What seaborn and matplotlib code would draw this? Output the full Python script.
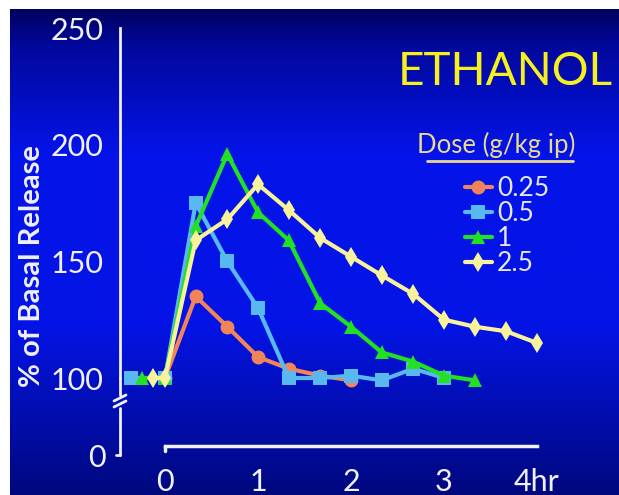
import numpy as np
import pandas as pd
import matplotlib
matplotlib.use('Agg')
import matplotlib.pyplot as plt
import seaborn as sns
from matplotlib.colors import LinearSegmentedColormap
from matplotlib.lines import Line2D

# ---- data (hours after injection, % of basal release) ----
doses = ['0.25', '0.5', '1', '2.5']

t_025 = [0.0, 0.33, 0.67, 1.0, 1.33, 1.67, 2.0]
v_025 = [100, 135, 122, 109, 104, 101, 99]

t_05 = [-0.37, 0.0, 0.33, 0.67, 1.0, 1.33, 1.67, 2.0, 2.33, 2.67, 3.0]
v_05 = [100, 100, 175, 150, 130, 100, 100, 101, 99, 104, 100]

t_1 = [-0.25, 0.0, 0.33, 0.67, 1.0, 1.33, 1.67, 2.0, 2.33, 2.67, 3.0, 3.33]
v_1 = [100, 100, 165, 196, 171, 159, 132, 122, 111, 107, 101, 99]

t_25 = [-0.13, 0.0, 0.33, 0.67, 1.0, 1.33, 1.67, 2.0, 2.33, 2.67, 3.0, 3.33, 3.67, 4.0]
v_25 = [100, 100, 159, 168, 183, 172, 160, 152, 144, 136, 125, 122, 120, 115]

y_ticks = [100, 150, 200, 250]
x_labels = ['0', '', '', '1', '', '', '2', '', '', '3', '', '', '4hr']

colors = {'0.25': '#f2845a', '0.5': '#5ab8f0', '1': '#22e022', '2.5': '#f8f29a'}
markers = {'0.25': 'o', '0.5': 's', '1': '^', '2.5': 'd'}

df = pd.concat([
    pd.DataFrame({'time': t_025, 'release': v_025, 'dose': '0.25'}),
    pd.DataFrame({'time': t_05, 'release': v_05, 'dose': '0.5'}),
    pd.DataFrame({'time': t_1, 'release': v_1, 'dose': '1'}),
    pd.DataFrame({'time': t_25, 'release': v_25, 'dose': '2.5'}),
], ignore_index=True)

sns.set_theme(style='white')
plt.rcParams['font.family'] = ['Lato', 'DejaVu Sans']

W, H = 619, 495
fig = plt.figure(figsize=(W / 100, H / 100), dpi=100)
fig.patch.set_facecolor('white')

# фон: градиент как на слайде
bg = fig.add_axes([10 / W, 0, (W - 10) / W, (H - 9) / H])
bg_cmap = LinearSegmentedColormap.from_list(
    'slide', [(0.0, '#00087e'), (0.35, '#0414e6'), (0.7, '#0414ea'), (0.93, '#02089a'), (1.0, '#00005e')])
grad = np.linspace(0, 1, 256).reshape(-1, 1)
bg.imshow(grad, aspect='auto', cmap=bg_cmap, origin='lower', extent=[0, 1, 0, 1])
bg.set_axis_off()

# main axes: t=0 at 165px, 93 px/hr ; value 100 at 378px, 2.333 px/unit
px_hr = 93.0
px_unit = 350 / 150
ax_l, ax_r = 100, 600
ax_t, ax_b = 20, 470
ax = fig.add_axes([ax_l / W, 1 - ax_b / H, (ax_r - ax_l) / W, (ax_b - ax_t) / H])
ax.patch.set_alpha(0)
ax.set_xlim((ax_l - 165) / px_hr, (ax_r - 165) / px_hr)
ax.set_ylim(100 - (ax_b - 378) / px_unit, 100 + (378 - ax_t) / px_unit)

sns.lineplot(data=df, x='time', y='release', hue='dose', style='dose',
             hue_order=doses, style_order=doses, palette=colors, markers=markers,
             dashes=False, linewidth=3, markersize=10, markeredgewidth=0,
             ax=ax, legend=True, zorder=3)

for s in ['top', 'right']:
    ax.spines[s].set_visible(False)

white = '#f0f0ff'
y_spine_x = (120 - 165) / px_hr
x_axis_y = 100 - (446 - 378) / px_unit
zero_y = 100 - (455 - 378) / px_unit

ax.spines['left'].set_position(('data', y_spine_x))
ax.spines['left'].set_bounds(100, 250)
ax.spines['left'].set_color(white)
ax.spines['left'].set_linewidth(2)
ax.spines['bottom'].set_position(('data', x_axis_y))
ax.spines['bottom'].set_bounds(0, 4)
ax.spines['bottom'].set_color(white)
ax.spines['bottom'].set_linewidth(2.5)

ax.set_yticks(y_ticks)
ax.set_yticklabels([str(v) for v in y_ticks])
ax.set_xticks(np.arange(13) / 3)
ax.set_xticklabels(x_labels)
ax.tick_params(axis='y', colors=white, labelsize=22, length=4, width=2, direction='out', pad=8)
ax.tick_params(axis='x', colors=white, labelsize=22, length=5, width=2, direction='in', pad=16)
ax.set_xlabel('')
ax.set_ylabel('% of Basal Release', color=white, fontsize=21, fontweight='bold', labelpad=0)
ax.yaxis.set_label_coords((45 - ax_l) / (ax_r - ax_l), 1 - (266 - ax_t) / (ax_b - ax_t))

# разрыв оси Y ниже 100 и уровень "0"
dx = 6 / px_hr
ax.plot([y_spine_x, y_spine_x], [100, 100 - 17 / px_unit], color=white, lw=2, clip_on=False)
for off in (0, 6):
    yb = 100 - (20 + off) / px_unit
    ax.plot([y_spine_x - dx, y_spine_x + dx], [yb - 3 / px_unit, yb + 3 / px_unit],
            color=white, lw=2, clip_on=False)
ax.plot([y_spine_x, y_spine_x], [100 - 30 / px_unit, zero_y], color=white, lw=2, clip_on=False)
ax.plot([y_spine_x - 4 / px_hr, y_spine_x], [zero_y, zero_y], color=white, lw=2, clip_on=False)
ax.text(y_spine_x - 14 / px_hr, zero_y - 3 / px_unit, '0', color=white, fontsize=22,
        ha='right', va='center')
ax.plot([0, 0], [x_axis_y, x_axis_y - 5 / px_unit], color=white, lw=2.5, clip_on=False)

# легенда
handles, labels = ax.get_legend_handles_labels()
leg = ax.legend(handles, labels, loc='upper left', bbox_to_anchor=(452 / W, 1 - 163 / H),
                bbox_transform=fig.transFigure, frameon=False, fontsize=19,
                labelspacing=0.0, handlelength=1.0, handletextpad=0.2, borderpad=0)
for txt in leg.get_texts():
    txt.set_color('#e6e6f4')

fig.text(505 / W, 1 - 72 / H, 'ETHANOL', color='#f5f01e', fontsize=33, ha='center', va='center')
fig.text(496 / W, 1 - 145 / H, 'Dose (g/kg ip)', color='#e8d890', fontsize=18.5, ha='center', va='center')
fig.add_artist(Line2D([427 / W, 573 / W], [1 - 161 / H, 1 - 161 / H], color='#e8d890', lw=2,
                      transform=fig.transFigure))

fig.savefig('out.png', dpi=100)
